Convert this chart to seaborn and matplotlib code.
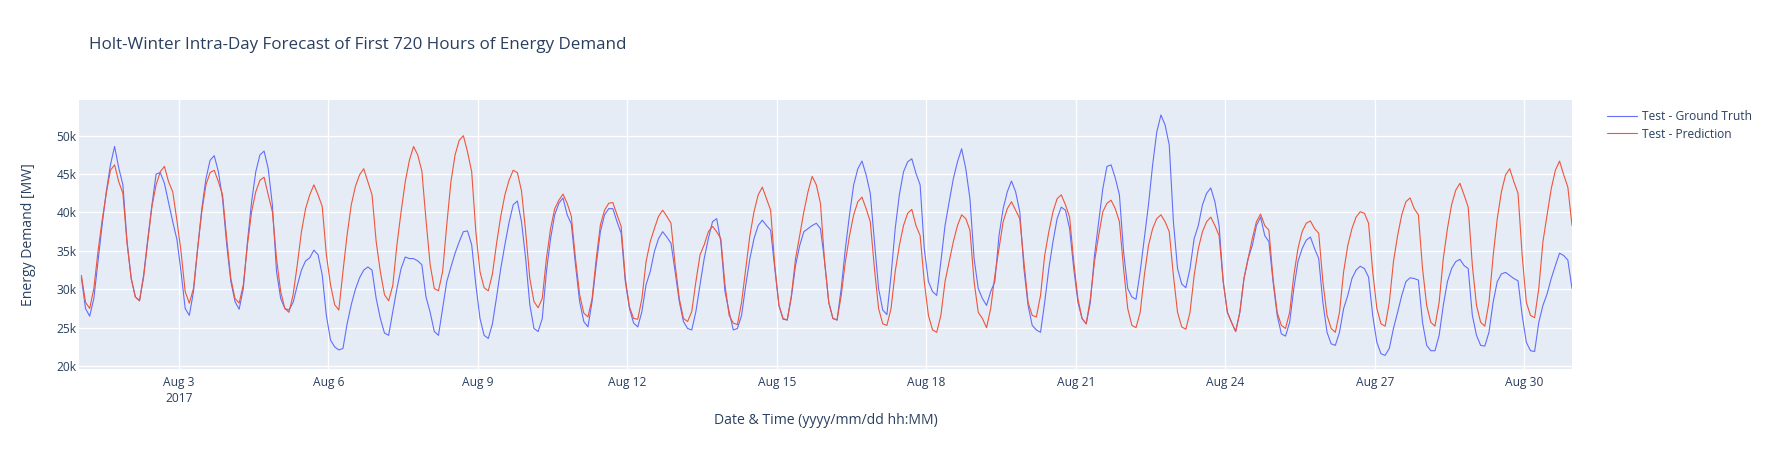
import numpy as np
import pandas as pd
import matplotlib
matplotlib.use("Agg")
import matplotlib.pyplot as plt
import matplotlib.dates as mdates
from matplotlib.lines import Line2D
from matplotlib.ticker import FuncFormatter
import seaborn as sns

# readings every 2 hours (01:00, 03:00, ... 23:00), thousands of MW, one day per row
ground_truth = [
    31.5, 27.5, 26.5, 28.8, 33.6, 38.4, 42.7, 46.2, 48.6, 45.8, 43.6, 36.2,  # Aug 1
    31.4, 29.0, 28.5, 31.9, 36.6, 41.0, 45.0, 45.2, 43.8, 41.3, 38.8, 36.5,
    32.3, 27.5, 26.6, 29.7, 35.3, 40.5, 44.4, 46.8, 47.4, 45.3, 41.8, 35.8,
    31.0, 28.4, 27.4, 30.1, 36.2, 41.4, 45.3, 47.5, 48.0, 45.7, 41.0, 32.3,
    28.8, 27.5, 27.3, 28.3, 30.5, 32.5, 33.7, 34.1, 35.1, 34.5, 31.9, 26.6,  # Aug 5
    23.4, 22.5, 22.1, 22.3, 25.5, 28.0, 30.0, 31.5, 32.5, 32.9, 32.5, 28.8,
    26.2, 24.3, 24.0, 27.1, 30.1, 32.7, 34.2, 34.0, 34.0, 33.7, 33.2, 29.0,
    27.0, 24.5, 24.0, 27.5, 31.0, 32.9, 34.7, 36.2, 37.5, 37.6, 35.8, 30.6,
    26.2, 24.0, 23.6, 25.5, 29.0, 32.7, 35.8, 38.7, 41.0, 41.5, 38.8, 34.0,
    28.0, 24.9, 24.5, 26.2, 32.3, 36.6, 39.7, 41.2, 41.9, 39.7, 38.5, 33.2,  # Aug 10
    28.4, 25.8, 25.1, 28.4, 33.2, 37.5, 39.7, 40.5, 40.5, 38.8, 37.3, 31.0,
    27.5, 25.6, 25.1, 27.1, 30.6, 32.3, 34.9, 36.6, 37.5, 36.8, 36.0, 32.3,
    28.4, 25.8, 24.9, 24.7, 27.1, 30.6, 34.0, 36.6, 38.8, 39.2, 36.2, 29.7,
    27.1, 24.7, 24.9, 26.6, 30.5, 34.0, 36.6, 38.3, 39.0, 38.3, 37.7, 32.7,
    27.9, 26.1, 26.0, 29.0, 33.1, 35.7, 37.5, 37.9, 38.3, 38.6, 37.9, 33.6,  # Aug 15
    28.3, 26.2, 26.0, 30.1, 35.3, 39.7, 43.6, 45.7, 46.7, 44.9, 42.5, 36.2,
    30.1, 27.3, 26.7, 31.8, 37.9, 42.3, 45.3, 46.6, 47.0, 45.1, 43.6, 35.3,
    31.0, 29.7, 29.2, 33.6, 38.3, 41.4, 44.4, 46.6, 48.3, 45.7, 41.8, 34.0,
    30.1, 28.8, 27.9, 29.7, 31.0, 37.0, 40.5, 42.7, 44.1, 42.7, 40.1, 32.7,
    27.9, 25.3, 24.7, 24.4, 28.3, 32.7, 36.2, 39.2, 40.7, 40.3, 37.9, 32.7,  # Aug 20
    28.3, 26.2, 25.5, 28.3, 34.4, 38.8, 43.1, 46.0, 46.2, 44.5, 42.3, 34.9,
    30.1, 29.0, 28.7, 32.3, 36.6, 41.0, 46.2, 50.5, 52.7, 51.4, 48.8, 38.8,
    32.7, 30.7, 30.2, 32.7, 36.6, 38.3, 41.0, 42.5, 43.2, 41.4, 38.3, 31.0,
    27.0, 25.7, 24.5, 27.0, 31.4, 34.0, 35.7, 38.3, 39.4, 37.0, 36.2, 31.0,
    26.6, 24.2, 23.9, 25.7, 30.1, 33.6, 35.3, 36.4, 36.8, 35.3, 34.0, 28.3,  # Aug 25
    24.4, 22.9, 22.7, 24.4, 27.5, 29.2, 31.4, 32.5, 33.0, 32.7, 31.6, 26.6,
    23.1, 21.6, 21.4, 22.3, 24.9, 27.0, 29.2, 31.0, 31.5, 31.4, 31.2, 25.7,
    22.7, 22.0, 22.0, 24.0, 27.9, 31.0, 32.7, 33.6, 33.9, 33.1, 32.7, 26.6,
    24.0, 22.7, 22.6, 24.4, 28.3, 31.0, 32.0, 32.2, 31.8, 31.4, 31.1, 26.6,
    23.1, 22.0, 21.9, 25.7, 27.9, 29.4, 31.4, 33.1, 34.7, 34.4, 33.8, 30.1,  # Aug 30
]

prediction = [
    31.8, 28.3, 27.5, 30.1, 34.9, 39.0, 42.5, 45.5, 46.2, 44.0, 42.5, 36.0,  # Aug 1
    31.4, 29.0, 28.5, 31.6, 36.3, 40.8, 43.6, 45.3, 46.0, 44.0, 42.7, 39.0,
    34.9, 29.7, 28.2, 30.1, 35.3, 40.1, 43.6, 45.2, 45.5, 44.0, 42.3, 36.6,
    31.4, 28.8, 28.2, 30.6, 35.8, 40.1, 42.7, 44.2, 44.6, 42.3, 40.1, 34.0,
    29.7, 27.5, 27.0, 29.3, 33.2, 37.5, 40.5, 42.3, 43.6, 42.3, 40.8, 34.5,  # Aug 5
    30.6, 28.0, 27.3, 32.3, 37.1, 41.0, 43.4, 44.9, 45.7, 44.0, 42.3, 36.2,
    32.3, 29.3, 28.5, 30.5, 35.8, 40.1, 44.0, 46.8, 48.6, 47.5, 45.4, 39.0,
    33.2, 30.1, 29.8, 32.3, 38.4, 44.0, 47.5, 49.4, 50.0, 47.9, 45.3, 37.5,
    32.3, 30.2, 29.8, 32.0, 36.0, 39.5, 42.3, 44.2, 45.5, 45.2, 42.8, 37.5,
    31.4, 28.4, 27.6, 28.8, 34.0, 37.9, 40.5, 41.6, 42.4, 41.2, 39.5, 34.0,  # Aug 10
    29.3, 26.9, 26.4, 28.8, 34.0, 38.4, 40.3, 41.2, 41.3, 39.7, 38.2, 31.4,
    27.7, 26.2, 26.1, 28.8, 33.6, 36.2, 37.9, 39.5, 40.3, 39.5, 38.6, 33.2,
    28.8, 26.2, 25.8, 27.1, 31.0, 34.5, 35.8, 37.5, 38.2, 37.5, 36.6, 30.6,
    26.6, 25.6, 25.4, 28.3, 32.7, 37.0, 40.1, 42.3, 43.3, 41.8, 40.3, 33.1,
    27.9, 26.2, 26.0, 29.2, 34.0, 37.0, 40.1, 42.7, 44.7, 43.6, 41.2, 33.6,  # Aug 15
    28.3, 26.2, 26.0, 29.2, 33.6, 37.0, 39.7, 41.4, 42.0, 40.5, 38.8, 32.7,
    27.5, 25.5, 25.3, 27.5, 32.3, 35.7, 38.3, 39.9, 40.4, 38.3, 37.0, 31.0,
    26.6, 24.7, 24.4, 26.6, 31.0, 33.6, 36.2, 38.3, 39.7, 39.2, 37.7, 31.0,
    27.0, 26.2, 25.0, 27.5, 31.8, 35.3, 38.8, 40.5, 41.4, 40.3, 39.2, 33.6,
    28.3, 26.6, 26.4, 29.2, 34.4, 37.5, 40.1, 41.8, 42.3, 41.0, 39.4, 33.6,  # Aug 20
    28.8, 26.2, 25.5, 28.8, 33.6, 37.0, 40.1, 41.2, 41.6, 40.5, 38.8, 32.7,
    27.5, 25.3, 25.0, 27.0, 31.8, 35.7, 37.9, 39.2, 39.7, 38.8, 37.5, 31.8,
    27.0, 25.1, 24.8, 27.0, 31.8, 35.3, 37.5, 38.8, 39.4, 38.3, 37.0, 31.0,
    27.0, 25.7, 24.5, 27.0, 31.4, 34.0, 36.6, 38.8, 39.8, 38.3, 37.7, 31.4,
    27.0, 25.3, 24.9, 27.0, 31.8, 35.3, 37.5, 38.6, 38.9, 37.9, 37.3, 31.0,  # Aug 25
    26.6, 24.9, 24.4, 27.0, 32.3, 35.7, 37.9, 39.4, 40.1, 39.9, 38.6, 32.3,
    27.5, 25.5, 25.2, 28.3, 33.6, 37.0, 39.7, 41.4, 41.9, 40.5, 39.7, 32.7,
    27.9, 25.7, 25.2, 28.3, 34.0, 37.9, 41.0, 42.9, 43.8, 42.3, 40.7, 33.1,
    27.9, 25.7, 25.2, 28.3, 34.3, 39.2, 42.7, 44.9, 45.7, 44.0, 42.5, 34.4,
    28.3, 26.6, 26.3, 30.1, 36.2, 39.7, 43.1, 45.5, 46.7, 44.9, 43.3, 38.3,  # Aug 30
]

series_names = ["Test - Ground Truth", "Test - Prediction"]
series_colors = ["#636EFA", "#EF553B"]

tick_dates = ["2017-08-03", "2017-08-06", "2017-08-09", "2017-08-12", "2017-08-15",
              "2017-08-18", "2017-08-21", "2017-08-24", "2017-08-27", "2017-08-30"]
tick_labels = ["Aug 3\n2017", "Aug 6", "Aug 9", "Aug 12", "Aug 15",
               "Aug 18", "Aug 21", "Aug 24", "Aug 27", "Aug 30"]
y_ticks = [20000, 25000, 30000, 35000, 40000, 45000, 50000]

times = pd.date_range("2017-08-01 01:00", periods=len(ground_truth), freq="2h")
df = pd.DataFrame({
    "time": times,
    series_names[0]: np.array(ground_truth) * 1000,
    series_names[1]: np.array(prediction) * 1000,
})
long_df = df.melt(id_vars="time", var_name="series", value_name="demand")

font_color = "#2a3f5f"
sns.set_theme(style="darkgrid", rc={
    "axes.facecolor": "#E5ECF6",
    "grid.color": "white",
    "grid.linewidth": 0.9,
    "figure.facecolor": "white",
})
plt.rcParams["font.family"] = ["Open Sans", "DejaVu Sans"]

W, H = 1778, 450
fig = plt.figure(figsize=(W / 100, H / 100), dpi=100)
left, right, top, bottom = 79.3, 1572, 100, 369.3
ax = fig.add_axes([left / W, 1 - bottom / H, (right - left) / W, (bottom - top) / H])

sns.lineplot(data=long_df, x="time", y="demand", hue="series",
             palette=series_colors, hue_order=series_names,
             linewidth=0.8, legend=False, ax=ax)

ax.set_xlim(pd.Timestamp("2017-08-01 00:00"), pd.Timestamp("2017-08-30 23:00"))
ax.set_ylim(19580, 54650)
ax.set_xticks([mdates.date2num(pd.Timestamp(d)) for d in tick_dates])
ax.set_xticklabels(tick_labels, linespacing=1.25)
ax.set_yticks(y_ticks)
ax.yaxis.set_major_formatter(FuncFormatter(lambda v, p: f"{int(v / 1000)}k"))
ax.tick_params(axis="both", length=0, labelsize=8.64, colors=font_color)
ax.tick_params(axis="x", pad=5)
ax.tick_params(axis="y", pad=2)
for s in ax.spines.values():
    s.set_visible(False)
ax.set_axisbelow(True)

ax.set_xlabel("Date & Time (yyyy/mm/dd hh:MM)", fontsize=10.08, color=font_color)
ax.set_ylabel("Energy Demand [MW]", fontsize=10.08, color=font_color)
ax.xaxis.set_label_coords(0.5, (bottom - 420.7) / (bottom - top))
ax.xaxis.label.set_va("center")
ax.yaxis.set_label_coords((28 - left) / (right - left), 0.5)
ax.yaxis.label.set_va("center")

fig.text(89 / W, 1 - 45 / H, "Holt-Winter Intra-Day Forecast of First 720 Hours of Energy Demand",
         fontsize=12.24, color=font_color, ha="left", va="center")

handles = [Line2D([], [], color=c, linewidth=0.8) for c in series_colors]
leg = fig.legend(handles, series_names, loc="upper left",
                 bbox_to_anchor=(1606.7 / W, 1 - 110 / H), frameon=False,
                 fontsize=8.64, handlelength=2.5, handletextpad=0.45,
                 labelspacing=0.38, borderpad=0, borderaxespad=0)
for t in leg.get_texts():
    t.set_color(font_color)

fig.savefig("out.png", dpi=100)
